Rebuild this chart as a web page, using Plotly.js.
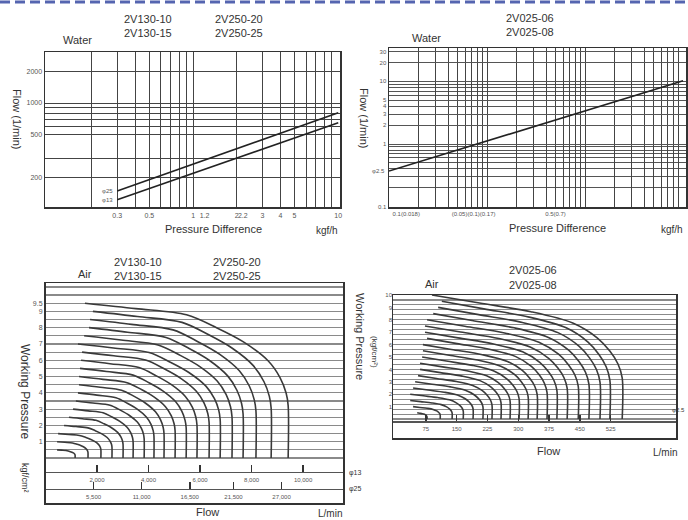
<!DOCTYPE html>
<html><head><meta charset="utf-8">
<script src="https://cdn.plot.ly/plotly-3.0.1.min.js"></script>
<style>html,body{margin:0;padding:0;background:#fff}#chart{width:688px;height:520px}</style>
</head><body><div id="chart"></div>
<script>
// ---------- Top-left: Water, 2V130 / 2V250 ----------
const tlDiff = [0.3, 10];
const tlFlowD25 = [148, 809];
const tlFlowD13 = [122, 652];
const tlXTickVals = [0.3, 0.5, 1, 1.2, 2, 2.2, 3, 4, 5, 10];
const tlXTickText = ['0.3', '0.5', '1', '1.2', '2', '2.2', '3', '4', '5', '10'];
const tlXGrid = [0.2, 0.3, 0.4, 0.5, 0.6, 0.7, 0.8, 0.9, 1, 2, 3, 4, 5, 6, 7, 8, 9];
const tlYTickVals = [200, 500, 1000, 2000];
const tlYTickText = ['200', '500', '1000', '2000'];
const tlYGrid = [200, 300, 500, 600, 700, 800, 900, 1000, 2000];

// ---------- Top-right: Water, 2V025 ----------
const trDiff = [0.01, 10];
const trFlow = [0.37, 10.2];
const trXTickVals = [0.015, 0.073, 0.5];
const trXTickText = ['0.1(0.018)', '(0.05)(0.1)(0.17)', '0.5(0.7)'];
const trXGrid = [0.02, 0.03, 0.04, 0.05, 0.06, 0.07, 0.08, 0.09, 0.1, 0.2, 0.3, 0.4, 0.5, 0.6, 0.7, 0.8, 0.9, 1, 2, 3, 4, 5, 6, 7, 8, 9];
const trYTickVals = [0.1, 1, 2, 3, 4, 5, 10, 20, 30];
const trYTickText = ['0.1', '1', '2', '3', '4', '5', '10', '20', '30'];
const trYGrid = [0.2, 0.3, 0.4, 0.5, 0.6, 0.7, 0.8, 0.9, 1, 2, 3, 4, 5, 6, 7, 8, 9, 10, 20, 30];

// ---------- Bottom-left: Air, 2V130 / 2V250 ----------
const blPressure = [0.5, 1, 1.5, 2, 2.5, 3, 3.5, 4, 4.5, 5, 5.5, 6, 6.5, 7, 7.5, 8, 8.5, 9, 9.5];
const blStartFlow = [450, 450, 490, 720, 910, 1070, 1180, 1260, 1300, 1300, 1340, 1380, 1420, 1260, 1500, 1690, 1730, 1840, 1530];
const blEndFlow = [1150, 1650, 2150, 2580, 3010, 3400, 3830, 4210, 4600, 5030, 5460, 5880, 6350, 6780, 7240, 7670, 8170, 8760, 9420];
const blShapeX = [0, 0.25, 0.5, 0.65, 0.78, 0.9, 0.96, 0.99, 1, 1];
const blShapeY = [1, 0.965, 0.925, 0.84, 0.75, 0.63, 0.52, 0.42, 0.34, 0];
const blTicks13 = [2000, 4000, 6000, 8000, 10000];
const blTicks13Text = ['2,000', '4,000', '6,000', '8,000', '10,000'];
const blTicks25 = [5500, 11000, 16500, 21500, 27000];
const blTicks25Text = ['5,500', '11,000', '16,500', '21,500', '27,000'];
const blYTickVals = [1, 2, 3, 4, 5, 6, 7, 8, 9, 9.5];
const blYTickText = ['1', '2', '3', '4', '5', '6', '7', '8', '9', '9.5'];
const blYGrid = [0, 0.5, 1, 1.5, 2, 2.5, 3, 3.5, 4, 4.5, 5, 5.5, 6, 6.5, 7, 7.5, 8, 8.5, 9, 9.5, 10, 10.5];

// ---------- Bottom-right: Air, 2V025 ----------
const brPressure = [0.5, 1, 1.5, 2, 2.5, 3, 3.5, 4, 4.5, 5, 5.5, 6, 6.5, 7, 7.5, 8, 8.5, 9, 9.5, 10];
const brStartFlow = [54, 44, 37, 37, 44, 49, 56, 61, 61, 66, 68, 68, 78, 73, 73, 78, 93, 105, 114, 90];
const brEndFlow = [78, 110, 139, 166, 190, 214, 236, 258, 280, 302, 324, 346, 370, 394, 419, 446, 472, 499, 523, 553];
const brShapeX = [0, 0.25, 0.52, 0.74, 0.87, 0.935, 0.978, 1, 1];
const brShapeY = [1, 0.935, 0.865, 0.774, 0.653, 0.548, 0.444, 0.331, 0];
const brXTicks = [75, 150, 225, 300, 375, 450, 525];
const brXTickText = ['75', '150', '225', '300', '375', '450', '525'];
const brYTickVals = [1, 2, 3, 4, 5, 6, 7, 8, 9, 10];
const brYTickText = ['1', '2', '3', '4', '5', '6', '7', '8', '9', '10'];
const brYGrid = [0, 0.4, 0.8, 1.2, 1.6, 2, 2.4, 2.8, 3.2, 3.6, 4, 4.4, 4.8, 5.2, 5.6, 6, 6.4, 6.8, 7.2, 7.6, 8, 8.4, 8.8, 9.2, 9.6, 10];

// ---------- build ----------
const W = 688, H = 520;
const px = v => v / W, py = v => 1 - v / H;
const INK = '#333';
const curveLine = {color: '#3a3a3a', width: 1.6, shape: 'spline', smoothing: 0.9};

const traces = [];
traces.push({x: tlDiff, y: tlFlowD25, xaxis: 'x', yaxis: 'y', mode: 'lines', line: {color: '#222', width: 1.6}, hoverinfo: 'skip'});
traces.push({x: tlDiff, y: tlFlowD13, xaxis: 'x', yaxis: 'y', mode: 'lines', line: {color: '#222', width: 1.6}, hoverinfo: 'skip'});
traces.push({x: trDiff, y: trFlow, xaxis: 'x2', yaxis: 'y2', mode: 'lines', line: {color: '#222', width: 1.6}, hoverinfo: 'skip'});

blPressure.forEach((p, i) => {
  const s = blStartFlow[i], e = blEndFlow[i];
  traces.push({x: blShapeX.map(f => s + f * (e - s)), y: blShapeY.map(f => f * p),
    xaxis: 'x3', yaxis: 'y3', mode: 'lines', line: curveLine, hoverinfo: 'skip'});
});
brPressure.forEach((p, i) => {
  const s = brStartFlow[i], e = brEndFlow[i];
  traces.push({x: brShapeX.map(f => s + f * (e - s)), y: brShapeY.map(f => f * p),
    xaxis: 'x4', yaxis: 'y4', mode: 'lines', line: curveLine, hoverinfo: 'skip'});
});
// carriers for the label / secondary scales
const carrierX = (vals, xa, ya) => traces.push({x: vals, y: vals.map(() => null), xaxis: xa, yaxis: ya, mode: 'markers', hoverinfo: 'skip'});
const carrierY = (vals, xa, ya) => traces.push({x: vals.map(() => null), y: vals, xaxis: xa, yaxis: ya, mode: 'markers', hoverinfo: 'skip'});
carrierX(blTicks13, 'x5', 'y3');
carrierX(blTicks25, 'x6', 'y3');
carrierX(brXTicks, 'x7', 'y4');
carrierX(tlXTickVals, 'x8', 'y');
carrierX(trXTickVals, 'x9', 'y2');
carrierY(brYTickVals, 'x4', 'y5');

const box = {showline: true, mirror: true, linecolor: INK, linewidth: 1.5, ticks: '', zeroline: false,
  tickfont: {size: 7, color: '#555'}};
const minorGrid = (vals, color, width) => ({tickmode: 'array', tickvals: vals, showgrid: true, gridcolor: color, gridwidth: width, ticks: ''});
const gridOnly = (vals, color, width) => ({tickmode: 'array', tickvals: vals, showticklabels: false, showgrid: true, gridcolor: color, gridwidth: width});
const labelAx = (over, anchor, extra) => Object.assign({overlaying: over, anchor: anchor, showgrid: false, showline: false,
  zeroline: false, ticks: '', tickmode: 'array', tickangle: 0, tickfont: {size: 7, color: '#555'}}, extra);
const freeAx = (over, pos, range, vals, text) => ({overlaying: over, anchor: 'free', position: pos, range: range,
  tickmode: 'array', tickvals: vals, ticktext: text, ticks: 'inside', ticklen: 7, tickwidth: 1.5, tickcolor: INK,
  showline: true, linecolor: '#555', linewidth: 1.3, showgrid: false, zeroline: false, tickangle: 0,
  tickfont: {size: 6, color: '#555'}, ticklabelstandoff: 1});

const layout = {
  width: W, height: H, margin: {l: 0, r: 0, t: 0, b: 0}, showlegend: false,
  paper_bgcolor: '#fff', plot_bgcolor: '#fff',
  font: {family: 'Liberation Sans, Arial, sans-serif', color: INK, size: 11},
  // top-left
  xaxis: Object.assign({}, box, gridOnly(tlXGrid, '#444', 1), {domain: [px(45), px(340)], anchor: 'y', type: 'log', range: [-1.02, 1.012]}),
  xaxis8: labelAx('x', 'y', {type: 'log', range: [-1.02, 1.012], tickvals: tlXTickVals, ticktext: tlXTickText, ticklabelstandoff: 3}),
  yaxis: Object.assign({}, box, {domain: [py(207), py(52)], anchor: 'x', type: 'log', range: [2.019, 3.481],
    tickmode: 'array', tickvals: tlYTickVals, ticktext: tlYTickText, showgrid: true, gridcolor: '#444', gridwidth: 1,
    minor: minorGrid(tlYGrid, '#444', 1)}),
  // top-right
  xaxis2: Object.assign({}, box, gridOnly(trXGrid, '#444', 1), {domain: [px(389), px(686)], anchor: 'y2', type: 'log', range: [-2, 1.03]}),
  xaxis9: labelAx('x2', 'y2', {type: 'log', range: [-2, 1.03], tickvals: trXTickVals, ticktext: trXTickText,
    tickfont: {size: 6, color: '#555'}, ticklabelstandoff: 2}),
  yaxis2: Object.assign({}, box, {domain: [py(207), py(48)], anchor: 'x2', type: 'log', range: [-1.005, 1.532],
    tickmode: 'array', tickvals: trYTickVals, ticktext: trYTickText, tickfont: {size: 6, color: '#555'},
    showgrid: true, gridcolor: '#555', gridwidth: 1, minor: minorGrid(trYGrid, '#555', 1)}),
  // bottom-left
  xaxis3: Object.assign({}, box, {domain: [px(45.5), px(343)], anchor: 'y3', range: [0, 11550], showticklabels: false, showgrid: false}),
  yaxis3: Object.assign({}, box, {domain: [py(503), py(283)], anchor: 'x3', range: [-2.76, 10.74],
    tickmode: 'array', tickvals: blYTickVals, ticktext: blYTickText, showgrid: true, gridcolor: '#8a8a8a', gridwidth: 1.2,
    minor: minorGrid(blYGrid, '#8a8a8a', 1.2)}),
  xaxis5: freeAx('x3', py(472), [0, 11550], blTicks13, blTicks13Text),
  xaxis6: freeAx('x3', py(489), [0, 34030], blTicks25, blTicks25Text),
  // bottom-right
  xaxis4: Object.assign({}, box, {domain: [px(393), px(676)], anchor: 'y4', range: [-4.9, 684], showticklabels: false, showgrid: false}),
  yaxis4: Object.assign({}, box, gridOnly(brYGrid, '#8a8a8a', 1.1), {domain: [py(438), py(295)], anchor: 'x4', range: [-1.53, 10.0]}),
  yaxis5: labelAx('y4', 'x4', {side: 'left', range: [-1.53, 10.0], tickvals: brYTickVals, ticktext: brYTickText,
    tickfont: {size: 6, color: '#555'}}),
  xaxis7: Object.assign(freeAx('x4', py(422), [-4.9, 684], brXTicks, brXTickText), {linewidth: 2, ticklen: 6}),
  shapes: [{type: 'line', xref: 'paper', yref: 'paper', x0: 0, x1: 1, y0: py(2), y1: py(2),
    line: {color: '#5565b0', width: 3, dash: '10px,5px'}}],
  annotations: []
};

const T = (text, x, y, size, extra) => layout.annotations.push(Object.assign({text: text, x: px(x), y: py(y),
  xref: 'paper', yref: 'paper', showarrow: false, font: {size: size, color: INK}, xanchor: 'center', yanchor: 'middle'}, extra || {}));

// top-left texts
T('Water', 77, 40, 11);
T('2V130-10', 148, 19, 11); T('2V130-15', 148, 33, 11);
T('2V250-20', 239, 19, 11); T('2V250-25', 239, 33, 11);
T('Flow (1/min)', 17, 119, 11, {textangle: 90});
T('Pressure Difference', 213, 229, 11);
T('kgf/h', 327, 230, 10);
// top-right texts
T('Water', 426, 38, 11);
T('2V025-06', 530, 18, 11); T('2V025-08', 530, 32, 11);
T('Flow (1/min)', 364, 118, 11, {textangle: 90});
T('Pressure Difference', 557, 228, 11);
T('kgf/h', 672, 229, 10);
// bottom-left texts
T('Air', 85, 274, 11);
T('2V130-10', 138, 262, 11); T('2V130-15', 138, 276, 11);
T('2V250-20', 237, 262, 11); T('2V250-25', 237, 276, 11);
T('Working Pressure', 25, 391, 12, {textangle: 90});
T('kgf/cm²', 25, 478, 9, {textangle: 90});
T('Flow', 207, 512, 11);
T('L/min', 330, 513, 10);
T('φ13', 347, 473, 7, {xanchor: 'left'});
T('φ25', 347, 489, 7, {xanchor: 'left'});
// bottom-right texts
T('Air', 432, 284, 11);
T('2V025-06', 533, 270, 11); T('2V025-08', 533, 285, 11);
T('Working Pressure', 360, 336, 11, {textangle: 90});
T('(kgf/cm²)', 375, 352, 8, {textangle: 90});
T('Flow', 548, 451, 11);
T('L/min', 665, 452, 10);
T('φ2.5', 687, 410, 6, {xanchor: 'right'});

// orifice labels at line starts (log axes use log10 positions)
const L = v => Math.log10(v);
layout.annotations.push({text: 'φ25', x: L(tlDiff[0]), y: L(tlFlowD25[0]), xref: 'x', yref: 'y', showarrow: false,
  xanchor: 'right', xshift: -2, font: {size: 6, color: '#555'}});
layout.annotations.push({text: 'φ13', x: L(tlDiff[0]), y: L(tlFlowD13[0]), xref: 'x', yref: 'y', showarrow: false,
  xanchor: 'right', xshift: -2, font: {size: 6, color: '#555'}});
layout.annotations.push({text: 'φ2.5', x: L(trDiff[0]), y: L(trFlow[0]), xref: 'x2', yref: 'y2', showarrow: false,
  xanchor: 'right', xshift: -2, font: {size: 6, color: '#555'}});

Plotly.newPlot('chart', traces, layout, {staticPlot: true, displayModeBar: false});
</script>
</body></html>
